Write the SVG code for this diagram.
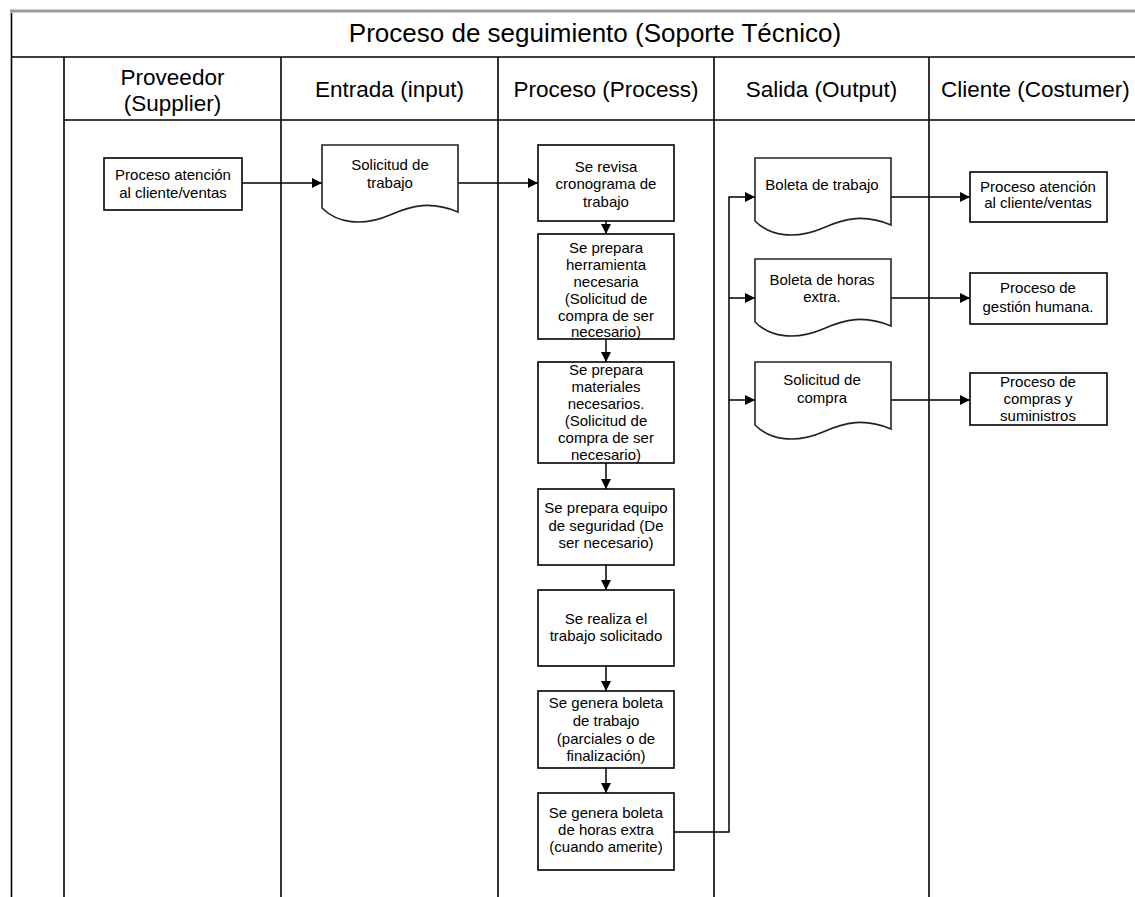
<svg xmlns="http://www.w3.org/2000/svg" width="1135" height="897" viewBox="0 0 1135 897">
  <defs>
    <style>
      .frame { stroke: #000; stroke-width: 1.6; fill: none; }
      .box { fill: #fff; stroke: #000; stroke-width: 1.6; }
      .doc { fill: #fff; stroke: #222; stroke-width: 1.6; }
      .t { font-family: "Liberation Sans", Arial, sans-serif; font-size: 15px; fill: #000; text-anchor: middle; }
      .hd { font-family: "Liberation Sans", Arial, sans-serif; font-size: 22.5px; fill: #000; text-anchor: middle; }
      .title { font-family: "Liberation Sans", Arial, sans-serif; font-size: 26px; fill: #000; text-anchor: middle; }
      .link { stroke: #000; stroke-width: 1.5; fill: none; marker-end: url(#arrow); }
      .plain { stroke: #000; stroke-width: 1.5; fill: none; }
    </style>
    <marker id="arrow" markerUnits="userSpaceOnUse" markerWidth="10" markerHeight="10" refX="10" refY="5" orient="auto">
      <path d="M0,0 L10,5 L0,10 Z" fill="#000"/>
    </marker>
    <!-- document shape with wavy bottom, 136 wide -->
    <path id="docShape" d="M0,0 H136 V67 C110,56 90,60 68,70 C40,82 15,78 0,63 Z"/>
  </defs>

  <rect width="1135" height="897" fill="#fff"/>

  <!-- table frame -->
  <g id="frame">
    <line x1="10" y1="11" x2="1135" y2="11" stroke="#9a9a9a" stroke-width="3"/>
    <line x1="11.5" y1="13" x2="11.5" y2="897" class="frame" stroke-width="2"/>
    <line x1="11" y1="57" x2="1135" y2="57" class="frame" stroke-width="2.6"/>
    <line x1="64" y1="120" x2="1135" y2="120" class="frame"/>
    <line x1="64" y1="57" x2="64" y2="897" class="frame"/>
    <line x1="281" y1="57" x2="281" y2="897" class="frame"/>
    <line x1="498" y1="57" x2="498" y2="897" class="frame"/>
    <line x1="714" y1="57" x2="714" y2="897" class="frame"/>
    <line x1="929" y1="57" x2="929" y2="897" class="frame"/>
    <text class="title" x="595" y="42">Proceso de seguimiento (Soporte Técnico)</text>
    <text class="hd" x="172.5" y="85">Proveedor</text>
    <text class="hd" x="172.5" y="111">(Supplier)</text>
    <text class="hd" x="389.5" y="97">Entrada (input)</text>
    <text class="hd" x="606" y="97">Proceso (Process)</text>
    <text class="hd" x="821.5" y="97">Salida (Output)</text>
    <text class="hd" x="941" y="97" text-anchor="start" style="text-anchor:start">Cliente (Costumer)</text>
  </g>

  <!-- connectors -->
  <g id="connectors">
    <line class="link" x1="242" y1="183" x2="322" y2="183"/>
    <line class="link" x1="458" y1="183" x2="538" y2="183"/>
    <line class="link" x1="606" y1="221" x2="606" y2="234"/>
    <line class="link" x1="606" y1="339" x2="606" y2="362"/>
    <line class="link" x1="606" y1="463" x2="606" y2="489"/>
    <line class="link" x1="606" y1="565" x2="606" y2="590"/>
    <line class="link" x1="606" y1="666" x2="606" y2="691"/>
    <line class="link" x1="606" y1="768" x2="606" y2="793"/>
    <polyline class="link" points="674,832 729,832 729,197 755,197"/>
    <line class="link" x1="729" y1="298" x2="755" y2="298"/>
    <line class="link" x1="729" y1="400" x2="755" y2="400"/>
    <line class="link" x1="891" y1="197" x2="970" y2="197"/>
    <line class="link" x1="891" y1="298" x2="970" y2="298"/>
    <line class="link" x1="891" y1="400" x2="970" y2="400"/>
  </g>

  <!-- supplier -->
  <g id="supplier">
    <rect class="box" x="104" y="158" width="138" height="52"/>
    <text class="t" x="173" y="180">Proceso atención</text>
    <text class="t" x="173" y="198">al cliente/ventas</text>
  </g>

  <!-- input -->
  <g id="input-solicitud">
    <use href="#docShape" class="doc" transform="translate(322,145)"/>
    <text class="t" x="390" y="170">Solicitud de</text>
    <text class="t" x="390" y="188">trabajo</text>
  </g>

  <!-- process steps -->
  <g id="step1">
    <rect class="box" x="538" y="145" width="136" height="76"/>
    <text class="t" x="606" y="172">Se revisa</text>
    <text class="t" x="606" y="189">cronograma de</text>
    <text class="t" x="606" y="207">trabajo</text>
  </g>
  <g id="step2">
    <rect class="box" x="538" y="234" width="136" height="105"/>
    <text class="t" x="606" y="253">Se prepara</text>
    <text class="t" x="606" y="270">herramienta</text>
    <text class="t" x="606" y="287">necesaria</text>
    <text class="t" x="606" y="304">(Solicitud de</text>
    <text class="t" x="606" y="321">compra de ser</text>
    <text class="t" x="606" y="337">necesario)</text>
  </g>
  <g id="step3">
    <rect class="box" x="538" y="362" width="136" height="101"/>
    <text class="t" x="606" y="375">Se prepara</text>
    <text class="t" x="606" y="392">materiales</text>
    <text class="t" x="606" y="409">necesarios.</text>
    <text class="t" x="606" y="426">(Solicitud de</text>
    <text class="t" x="606" y="443">compra de ser</text>
    <text class="t" x="606" y="460">necesario)</text>
  </g>
  <g id="step4">
    <rect class="box" x="538" y="489" width="136" height="76"/>
    <text class="t" x="606" y="513">Se prepara equipo</text>
    <text class="t" x="606" y="531">de seguridad (De</text>
    <text class="t" x="606" y="548">ser necesario)</text>
  </g>
  <g id="step5">
    <rect class="box" x="538" y="590" width="136" height="76"/>
    <text class="t" x="606" y="624">Se realiza el</text>
    <text class="t" x="606" y="641">trabajo solicitado</text>
  </g>
  <g id="step6">
    <rect class="box" x="538" y="691" width="136" height="77"/>
    <text class="t" x="606" y="708">Se genera boleta</text>
    <text class="t" x="606" y="726">de trabajo</text>
    <text class="t" x="606" y="744">(parciales o de</text>
    <text class="t" x="606" y="761">finalización)</text>
  </g>
  <g id="step7">
    <rect class="box" x="538" y="793" width="136" height="77"/>
    <text class="t" x="606" y="818">Se genera boleta</text>
    <text class="t" x="606" y="835">de horas extra</text>
    <text class="t" x="606" y="852">(cuando amerite)</text>
  </g>

  <!-- outputs -->
  <g id="out-boleta-trabajo">
    <use href="#docShape" class="doc" transform="translate(755,158)"/>
    <text class="t" x="822" y="190">Boleta de trabajo</text>
  </g>
  <g id="out-boleta-horas">
    <use href="#docShape" class="doc" transform="translate(755,259)"/>
    <text class="t" x="822" y="285">Boleta de horas</text>
    <text class="t" x="822" y="302">extra.</text>
  </g>
  <g id="out-solicitud-compra">
    <use href="#docShape" class="doc" transform="translate(755,362)"/>
    <text class="t" x="822" y="385">Solicitud de</text>
    <text class="t" x="822" y="403">compra</text>
  </g>

  <!-- customers -->
  <g id="client-ventas">
    <rect class="box" x="970" y="172" width="137" height="50"/>
    <text class="t" x="1038" y="192">Proceso atención</text>
    <text class="t" x="1038" y="208">al cliente/ventas</text>
  </g>
  <g id="client-gestion">
    <rect class="box" x="970" y="273" width="137" height="51"/>
    <text class="t" x="1038" y="293">Proceso de</text>
    <text class="t" x="1038" y="312">gestión humana.</text>
  </g>
  <g id="client-compras">
    <rect class="box" x="970" y="373" width="137" height="52"/>
    <text class="t" x="1038" y="387">Proceso de</text>
    <text class="t" x="1038" y="404">compras y</text>
    <text class="t" x="1038" y="421">suministros</text>
  </g>
</svg>
